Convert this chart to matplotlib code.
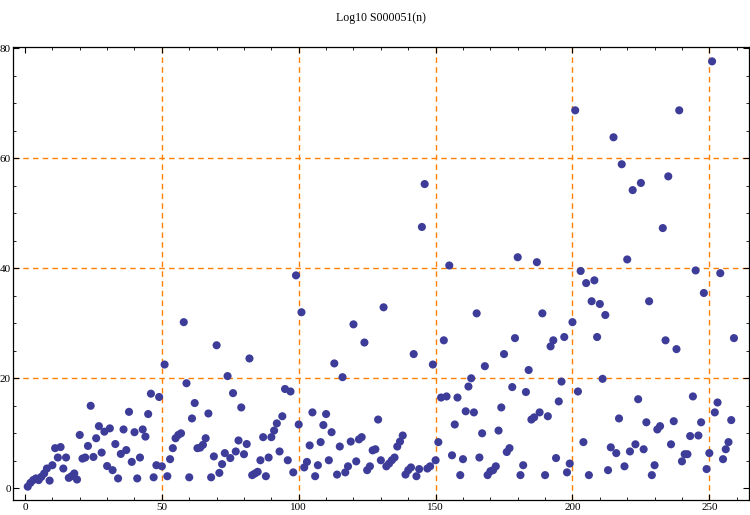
import numpy as np
import matplotlib.pyplot as plt
from matplotlib.ticker import MultipleLocator

# values, n = 1..259, split into blocks
log_vals_1 = [0.3, 1.0, 1.5, 1.8, 1.5, 2.1, 2.7, 3.6, 1.4, 4.2,
              7.3, 5.6, 7.5, 3.6, 5.6, 1.9, 2.2, 2.7, 1.6, 9.7,
              5.4, 5.6, 7.7, 15.0, 5.7, 9.1, 11.3, 6.5, 10.3, 4.05,
              10.9, 3.3, 8.05, 1.8, 6.25, 10.7, 6.95, 13.9, 4.8, 10.2,
              1.8, 5.6, 10.7, 9.4, 13.5, 17.2, 2.0, 4.2, 16.6, 4.0]
log_vals_2 = [22.5, 2.2, 5.3, 7.3, 9.1, 9.7, 10.0, 30.2, 19.1, 2.0,
              12.7, 15.5, 7.3, 7.4, 7.9, 9.1, 13.6, 2.0, 5.8, 26.0,
              2.8, 4.4, 6.4, 20.4, 5.5, 17.3, 6.7, 8.7, 14.7, 6.2,
              8.05, 23.6, 2.4, 2.7, 3.0, 5.1, 9.3, 2.2, 5.6, 9.3,
              10.5, 11.8, 6.7, 13.1, 18.05, 5.1, 17.6, 2.9, 38.7, 11.6]
log_vals_3 = [32.0, 3.8, 4.8, 7.8, 13.8, 2.2, 4.2, 8.4, 11.5, 13.5,
              5.1, 10.2, 22.7, 2.5, 7.6, 20.2, 2.9, 4.0, 8.5, 29.8,
              4.9, 8.9, 9.3, 26.5, 3.3, 4.0, 6.9, 7.1, 12.5, 5.1,
              32.9, 4.0, 4.5, 5.1, 5.6, 7.6, 8.5, 9.6, 2.5, 3.3,
              3.8, 24.4, 2.2, 3.5, 47.5, 55.3, 3.6, 4.0, 22.5, 5.1]
log_vals_4 = [8.4, 16.5, 26.9, 16.7, 40.5, 6.0, 11.6, 16.5, 2.4, 5.3,
              14.0, 18.5, 20.0, 13.8, 31.8, 5.6, 10.0, 22.2, 2.4, 3.1,
              3.3, 4.0, 10.5, 14.7, 24.4, 6.6, 7.3, 18.4, 27.3, 42.0,
              2.4, 4.2, 17.5, 21.5, 12.5, 12.9, 41.1, 13.8, 31.8, 2.4,
              13.1, 25.8, 26.9, 5.5, 15.8, 19.4, 27.5, 2.9, 4.5, 30.2]
log_vals_5 = [68.7, 17.6, 39.5, 8.4, 37.3, 2.4, 34.0, 37.8, 27.5, 33.5,
              19.9, 31.5, 3.3, 7.45, 63.8, 6.4, 12.7, 58.9, 4.0, 41.6,
              6.7, 54.2, 8.0, 16.2, 55.5, 7.1, 12.0, 34.0, 2.4, 4.2,
              10.7, 11.3, 47.3, 26.9, 56.7, 8.0, 12.2, 25.3, 68.7, 4.9,
              6.2, 6.2, 9.5, 16.7, 39.6, 9.6, 12.0, 35.5, 3.5, 6.4]
log_vals_6 = [77.6, 13.8, 15.6, 39.1, 5.3, 7.1, 8.4, 12.4, 27.3]

x_ticks = [0, 50, 100, 150, 200, 250]
y_ticks = [0, 20, 40, 60, 80]
grid_x = [50, 100, 150, 200, 250]
grid_y = [20, 40, 60]

vals = log_vals_1 + log_vals_2 + log_vals_3 + log_vals_4 + log_vals_5 + log_vals_6
n = np.arange(1, len(vals) + 1)

plt.rcParams['font.family'] = ['Liberation Serif', 'DejaVu Serif']

fig = plt.figure(figsize=(7.5, 5.15), dpi=100)
ax = fig.add_axes([0.018, 0.0283, 0.9807, 0.8814])

# orange dashed grid under the points
for gx in grid_x:
    ax.axvline(gx, color=(1, 0.5, 0), lw=1, ls=(0, (4, 3)), zorder=1)
for gy in grid_y:
    ax.axhline(gy, color=(1, 0.5, 0), lw=1, ls=(0, (4, 3)), zorder=1)

ax.scatter(n, vals, s=34, color=(0.24, 0.24, 0.6), edgecolors='none', zorder=3)

ax.set_xlim(-4.2, 264.5)
ax.set_ylim(-2.2, 80.3)
ax.set_xticks(x_ticks)
ax.set_yticks(y_ticks)
ax.xaxis.set_minor_locator(MultipleLocator(10))
ax.yaxis.set_minor_locator(MultipleLocator(5))
ax.tick_params(which='both', direction='in', top=True, right=True, labelsize=8, pad=2)
ax.tick_params(which='major', length=4, width=0.8)
ax.tick_params(which='minor', length=2, width=0.6)
for sp in ax.spines.values():
    sp.set_linewidth(0.9)

fig.text(0.508, 0.965, 'Log10 S000051(n)', ha='center', va='center', fontsize=8.5)

fig.savefig('out.png', dpi=100)
